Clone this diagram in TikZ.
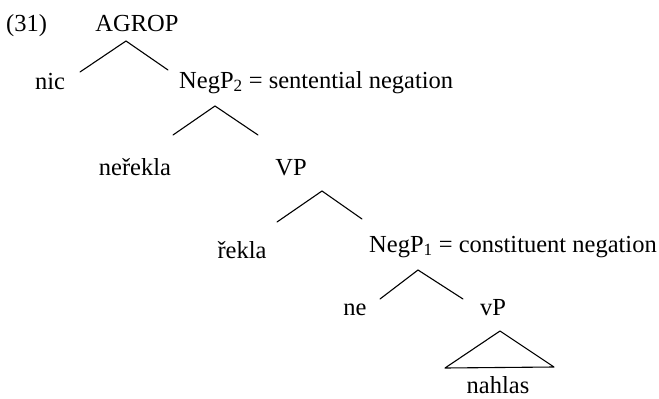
\documentclass[tikz,border=0pt]{standalone}
\usepackage{fontspec}
\setmainfont{Liberation Serif}
\begin{document}
\begin{tikzpicture}[x=1pt,y=-1pt,
  lbl/.style={anchor=base, inner sep=0pt, font=\fontsize{24.5}{28}\selectfont},
  br/.style={line width=1.1pt, line cap=round}]
\useasboundingbox (0,0) rectangle (659,399);
% labels
\node[lbl, anchor=base west] (ex) at (6,31) {(31)};
\node[lbl] (agrop) at (137,31) {AGROP};
\node[lbl] (nic) at (50,89) {nic};
\node[lbl, anchor=base west] (negp2) at (179,88) {NegP\textsubscript{2} = sentential negation};
\node[lbl] (nerekla) at (135,175) {neřekla};
\node[lbl] (vp) at (291,175) {VP};
\node[lbl] (rekla) at (242,258) {řekla};
\node[lbl, anchor=base west] (negp1) at (369,252) {NegP\textsubscript{1} = constituent negation};
\node[lbl] (ne) at (355,315) {ne};
\node[lbl] (smallvp) at (493,315) {vP};
\node[lbl] (nahlas) at (498,393) {nahlas};
% branch points
\coordinate (a0) at (126,41);  \coordinate (a1) at (80,72);   \coordinate (a2) at (168,70);
\coordinate (b0) at (215,106); \coordinate (b1) at (173,135); \coordinate (b2) at (258,135);
\coordinate (c0) at (322,191); \coordinate (c1) at (277,222); \coordinate (c2) at (362,219);
\coordinate (d0) at (418,270); \coordinate (d1) at (380,299); \coordinate (d2) at (463,299);
\coordinate (t0) at (500,331); \coordinate (t1) at (445,368); \coordinate (t2) at (554,367);
% branches
\draw[br] (a1) -- (a0) -- (a2);
\draw[br] (b1) -- (b0) -- (b2);
\draw[br] (c1) -- (c0) -- (c2);
\draw[br] (d1) -- (d0) -- (d2);
\draw[br, line join=round] (t0) -- (t1) -- (t2) -- cycle;
\end{tikzpicture}
\end{document}
